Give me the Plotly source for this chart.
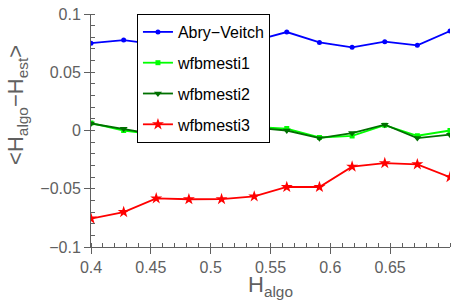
import plotly.graph_objects as go

h_algo = [0.4, 0.4273, 0.4545, 0.4818, 0.5091, 0.5364, 0.5636, 0.5909, 0.6182, 0.6455, 0.6727, 0.7]
abry_veitch = [0.075, 0.0776, 0.074, 0.076, 0.078, 0.077, 0.0845, 0.0756, 0.0714, 0.0762, 0.0731, 0.0854]
wfbmesti1 = [0.0064, 0.0, -0.0036, 0.0, 0.0062, 0.003, 0.0017, -0.006, -0.0047, 0.0045, -0.0045, 0.0]
wfbmesti2 = [0.006, 0.0014, -0.0036, 0.0006, 0.0056, 0.0025, 0.0, -0.0066, -0.0022, 0.005, -0.0065, -0.0036]
wfbmesti3 = [-0.0756, -0.070, -0.0583, -0.059, -0.0589, -0.0566, -0.0485, -0.0485, -0.031, -0.028, -0.029, -0.040]

series_names = ["Abry\u2212Veitch", "wfbmesti1", "wfbmesti2", "wfbmesti3"]
xtick_vals = [0.4, 0.45, 0.5, 0.55, 0.6, 0.65]
xtick_text = ["0.4", "0.45", "0.5", "0.55", "0.6", "0.65"]
ytick_vals = [-0.1, -0.05, 0, 0.05, 0.1]
ytick_text = ["\u22120.1", "\u22120.05", "0", "0.05", "0.1"]

FONT = "Liberation Sans, Arial, Helvetica, sans-serif"
GRAY = "#606060"

styles = [
    dict(color="#0000ff", symbol="circle", size=5),
    dict(color="#00ff00", symbol="square", size=5),
    dict(color="#007000", symbol="triangle-down", size=7),
    dict(color="#ff0000", symbol="star", size=9),
]

fig = go.Figure()
for i, (name, ys) in enumerate(zip(series_names, [abry_veitch, wfbmesti1, wfbmesti2, wfbmesti3])):
    st = styles[i]
    fig.add_trace(go.Scatter(
        x=h_algo, y=ys, name=name, mode="lines+markers",
        legendgroup=f"g{i}",
        line=dict(color=st["color"], width=1.8),
        marker=dict(color=st["color"], symbol=st["symbol"], size=st["size"], line=dict(width=0)),
    ))

axis_common = dict(
    showgrid=False, zeroline=False, showline=True, linecolor=GRAY, linewidth=1,
    ticks="outside", ticklen=6, tickcolor=GRAY, tickwidth=1,
    tickfont=dict(family=FONT, size=16, color=GRAY),
    mirror=False, ticklabeloverflow="allow",
)

fig.update_xaxes(range=[0.4, 0.7], tickvals=xtick_vals, ticktext=xtick_text,
                 minor=dict(ticks="inside", dtick=0.01, ticklen=4, tickcolor=GRAY, tickwidth=1, showgrid=False),
                 **axis_common)
fig.update_yaxes(range=[-0.1, 0.1], tickvals=ytick_vals, ticktext=ytick_text,
                 minor=dict(ticks="inside", dtick=0.01, ticklen=4, tickcolor=GRAY, tickwidth=1, showgrid=False),
                 **axis_common)

fig.update_layout(
    width=456, height=305,
    margin=dict(l=91, r=6, t=8, b=58),
    paper_bgcolor="white", plot_bgcolor="white",
    showlegend=True,
    legend=dict(
        x=0.128, y=1.0, xanchor="left", yanchor="top",
        bgcolor="white", bordercolor="black", borderwidth=1,
        font=dict(family=FONT, size=16, color="black"),
        traceorder="grouped", tracegroupgap=7,
    ),
    annotations=[
        dict(text="H<sub>algo</sub>", xref="paper", yref="paper", x=0.5, y=-0.1,
             xanchor="center", yanchor="top", showarrow=False,
             font=dict(family=FONT, size=22, color=GRAY)),
        dict(text="&lt;H<sub>algo</sub>\u2212H<sub>est</sub>&gt;", xref="paper", yref="paper",
             x=-0.206, y=0.61, xanchor="center", yanchor="middle", textangle=-90, showarrow=False,
             font=dict(family=FONT, size=22, color=GRAY)),
    ],
)

fig.write_html("out.html", config={"displayModeBar": False},
               post_script="document.body.style.margin='0';document.body.style.overflow='hidden';")
